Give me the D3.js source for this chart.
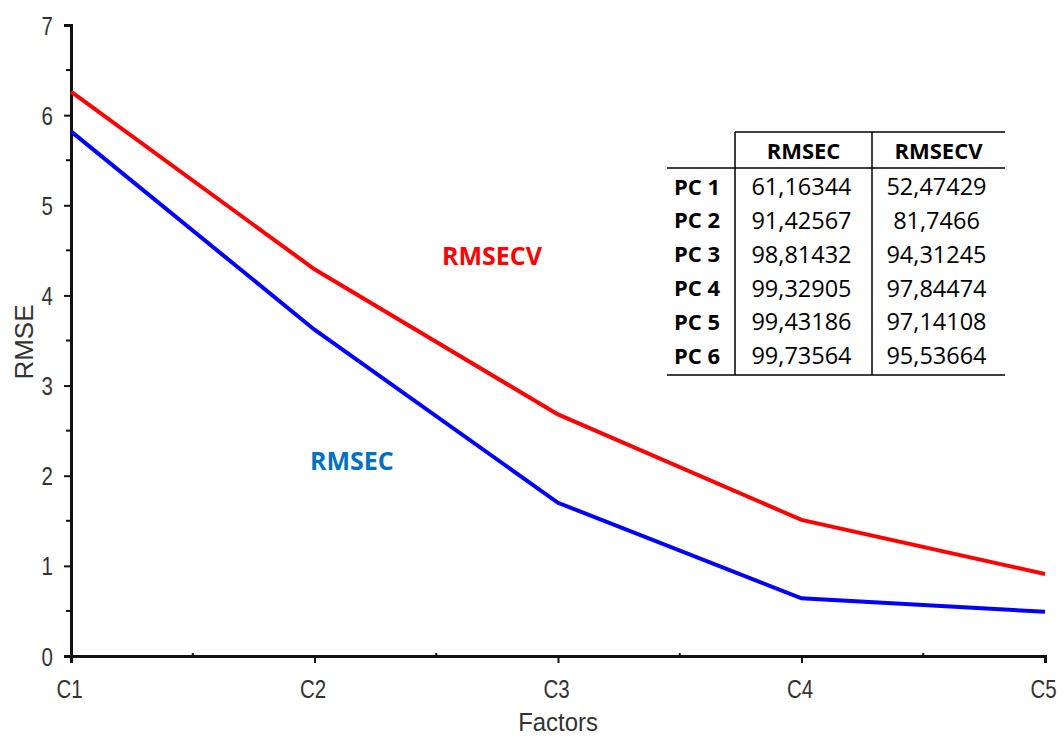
<!DOCTYPE html>
<html>
<head>
<meta charset="utf-8">
<script src="https://cdn.jsdelivr.net/npm/d3@7"></script>
<style>
  body { margin: 0; background: #fff; }
  svg { display: block; }
  .axis text { font-family: "Liberation Sans", Arial, sans-serif; font-size: 25px; fill: #333; }
  .tbl text { font-family: "Open Sans", "Liberation Sans", sans-serif; font-size: 22px; fill: #000; }
  .tbl text.num { font-size: 23.5px; }
</style>
</head>
<body>
<svg id="chart"></svg>
<script>
// data
var factors = ["C1", "C2", "C3", "C4", "C5"];
var rmsecv = [6.26, 4.29, 2.68, 1.51, 0.91];
var rmsec = [5.82, 3.62, 1.70, 0.64, 0.49];
var yTicks = [0, 1, 2, 3, 4, 5, 6, 7];

// table values
var tableHead = ["RMSEC", "RMSECV"];
var tableRows = ["PC 1", "PC 2", "PC 3", "PC 4", "PC 5", "PC 6"];
var colRmsec = ["61,16344", "91,42567", "98,81432", "99,32905", "99,43186", "99,73564"];
var colRmsecv = ["52,47429", "81,7466", "94,31245", "97,84474", "97,14108", "95,53664"];

var width = 1064, height = 739;
var plotLeft = 71, plotRight = 1045, plotTop = 25, plotBottom = 656;
var squeeze = 0.82; // tick labels are a bit narrow in the original

var svg = d3.select("#chart")
  .attr("width", width)
  .attr("height", height);

var x = d3.scalePoint().domain(factors).range([plotLeft, plotRight]);
var y = d3.scaleLinear().domain([0, 7]).range([plotBottom, plotTop]);

// minor ticks at the half steps
var yMinor = d3.range(0.5, 7, 1);
svg.append("g")
  .attr("transform", "translate(" + plotLeft + ",0)")
  .selectAll("line")
  .data(yMinor)
  .enter()
  .append("line")
  .attr("x1", -5).attr("x2", 0)
  .attr("y1", function(d) { return y(d); })
  .attr("y2", function(d) { return y(d); })
  .attr("stroke", "#111").attr("stroke-width", 2);

var xMinor = d3.range(0, factors.length - 1).map(function(i) {
  return (x(factors[i]) + x(factors[i + 1])) / 2;
});
svg.append("g")
  .selectAll("line")
  .data(xMinor)
  .enter()
  .append("line")
  .attr("x1", function(d) { return d; })
  .attr("x2", function(d) { return d; })
  .attr("y1", plotBottom - 3).attr("y2", plotBottom + 2)
  .attr("stroke", "#111").attr("stroke-width", 2);

// axes
var yAxis = svg.append("g")
  .attr("class", "axis")
  .attr("transform", "translate(" + plotLeft + ",0)")
  .call(d3.axisLeft(y).tickValues(yTicks).tickSize(7).tickPadding(12).tickFormat(d3.format("d")));

var xAxis = svg.append("g")
  .attr("class", "axis")
  .attr("transform", "translate(0," + plotBottom + ")")
  .call(d3.axisBottom(x).tickSize(7).tickPadding(17));

[yAxis, xAxis].forEach(function(a) {
  a.select(".domain").attr("stroke", "#111").attr("stroke-width", 3);
  a.selectAll(".tick line").attr("stroke", "#111").attr("stroke-width", 2);
});
yAxis.selectAll(".tick text")
  .attr("dy", "0.36em")
  .attr("x", -18 / squeeze)
  .attr("transform", "scale(" + squeeze + ",1)");
xAxis.selectAll(".tick text")
  .attr("x", -2 / squeeze)
  .attr("transform", "scale(" + squeeze + ",1)");

svg.append("text")
  .attr("transform", "translate(558,731) scale(0.92,1)")
  .attr("text-anchor", "middle")
  .attr("font-family", "Liberation Sans, Arial, sans-serif")
  .attr("font-size", 26).attr("fill", "#333")
  .text("Factors");

svg.append("text")
  .attr("transform", "translate(33,342) rotate(-90)")
  .attr("text-anchor", "middle")
  .attr("font-family", "Liberation Sans, Arial, sans-serif")
  .attr("font-size", 26).attr("fill", "#333")
  .text("RMSE");

// lines
var line = d3.line()
  .x(function(d, i) { return x(factors[i]); })
  .y(function(d) { return y(d); });

svg.append("path")
  .datum(rmsecv)
  .attr("d", line)
  .attr("fill", "none")
  .attr("stroke", "#ff0000")
  .attr("stroke-width", 4);

svg.append("path")
  .datum(rmsec)
  .attr("d", line)
  .attr("fill", "none")
  .attr("stroke", "#0000ff")
  .attr("stroke-width", 4);

// series labels
svg.append("text")
  .attr("x", 442).attr("y", 265)
  .attr("font-family", "Open Sans, sans-serif")
  .attr("font-weight", "bold")
  .attr("font-size", 25).attr("fill", "#ff0000")
  .text("RMSECV");

svg.append("text")
  .attr("x", 310).attr("y", 470)
  .attr("font-family", "Open Sans, sans-serif")
  .attr("font-weight", "bold")
  .attr("font-size", 25).attr("fill", "#0070c0")
  .text("RMSEC");

// table
var tbl = svg.append("g").attr("class", "tbl");
var tLeft = 667, tRight = 1005, c1 = 735, c2 = 872;
var tTop = 132, headBottom = 168, tBottom = 375;

var rowY = d3.scaleBand().domain(tableRows).range([headBottom + 2, tBottom - 2]);

tbl.append("line").attr("x1", c1).attr("x2", tRight).attr("y1", tTop).attr("y2", tTop)
  .attr("stroke", "#000").attr("stroke-width", 1.5);
tbl.append("line").attr("x1", tLeft).attr("x2", tRight).attr("y1", headBottom).attr("y2", headBottom)
  .attr("stroke", "#000").attr("stroke-width", 1.5);
tbl.append("line").attr("x1", tLeft).attr("x2", tRight).attr("y1", tBottom).attr("y2", tBottom)
  .attr("stroke", "#000").attr("stroke-width", 1.5);
[c1, c2].forEach(function(cx) {
  tbl.append("line").attr("x1", cx).attr("x2", cx).attr("y1", tTop).attr("y2", tBottom)
    .attr("stroke", "#000").attr("stroke-width", 1.5);
});

var colCenters = [(c1 + c2) / 2, (c2 + tRight) / 2];
tbl.selectAll(".head")
  .data(tableHead)
  .enter()
  .append("text")
  .attr("x", function(d, i) { return colCenters[i]; })
  .attr("y", (tTop + headBottom) / 2 + 1)
  .attr("dy", "0.35em")
  .attr("text-anchor", "middle")
  .attr("font-weight", "bold")
  .text(function(d) { return d; });

tbl.selectAll(".rowlab")
  .data(tableRows)
  .enter()
  .append("text")
  .attr("x", 674)
  .attr("y", function(d) { return rowY(d) + rowY.bandwidth() / 2; })
  .attr("dy", "0.35em")
  .attr("font-weight", "bold")
  .text(function(d) { return d; });

[colRmsec, colRmsecv].forEach(function(col, ci) {
  tbl.selectAll(".col" + ci)
    .data(col)
    .enter()
    .append("text")
    .attr("class", "num")
    .attr("x", colCenters[ci] - 2)
    .attr("y", function(d, i) { return rowY(tableRows[i]) + rowY.bandwidth() / 2; })
    .attr("dy", "0.35em")
    .attr("text-anchor", "middle")
    .text(function(d) { return d; });
});
</script>
</body>
</html>
